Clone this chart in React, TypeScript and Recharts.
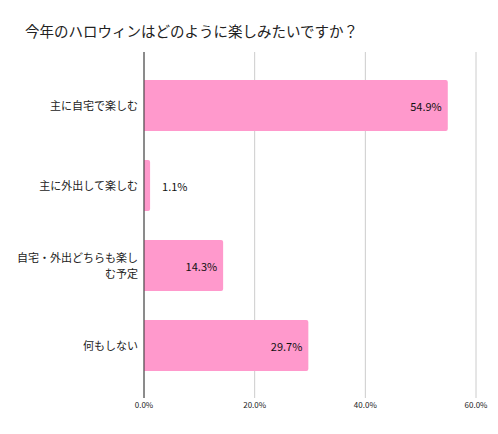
import { BarChart, Bar, XAxis, YAxis, CartesianGrid, ReferenceLine, LabelList } from 'recharts';

const categories = ['主に自宅で楽しむ', '主に外出して楽しむ', '自宅・外出どちらも楽しむ予定', '何もしない'];
const shares = [54.9, 1.1, 14.3, 29.7];
const xTicks = [0, 20, 40, 60];

const FONT = '"Noto Sans CJK JP", "Noto Sans", sans-serif';
const data = categories.map((name, i) => ({ name, value: shares[i] }));

// Japanese has no spaces to wrap on, so break by character count
function wrap(label: string, max = 11) {
  const lines: string[] = [];
  for (let i = 0; i < label.length; i += max) lines.push(label.slice(i, i + max));
  return lines;
}

function CategoryTick({ x, y, payload }: any) {
  const lines = wrap(String(payload.value));
  const lh = 16;
  const start = y - ((lines.length - 1) * lh) / 2;
  return (
    <text x={x} y={start} textAnchor="end" fontSize={11} fill="#222" fontFamily={FONT} dominantBaseline="central">
      {lines.map((l, i) => (
        <tspan key={i} x={x} y={start + i * lh}>
          {l}
        </tspan>
      ))}
    </text>
  );
}

function ValueLabel({ x, y, width, height, value }: any) {
  const inside = value > 5;
  const tx = inside ? x + width - 6 : x + width + 12;
  return (
    <text
      x={tx}
      y={y + height / 2}
      textAnchor={inside ? 'end' : 'start'}
      dominantBaseline="central"
      fontSize={11}
      fill="#111"
      fontFamily={FONT}
    >
      {`${Number(value).toFixed(1)}%`}
    </text>
  );
}

export default function App() {
  return (
    <div style={{ position: 'absolute', left: 0, top: 0, width: 498, height: 434, background: '#fff' }}>
      <div
        style={{
          position: 'absolute',
          left: 25,
          top: 21,
          fontSize: 14.5,
          color: '#222',
          fontFamily: FONT,
          whiteSpace: 'nowrap',
          lineHeight: '20px',
        }}
      >
        今年のハロウィンはどのように楽しみたいですか？
      </div>
      <BarChart
        width={498}
        height={434}
        data={data}
        layout="vertical"
        margin={{ top: 52, right: 22, bottom: 16, left: 0 }}
      >
        <CartesianGrid horizontal={false} stroke="#cccccc" />
        <XAxis
          type="number"
          domain={[0, 60]}
          ticks={xTicks}
          tickFormatter={(v) => `${Number(v).toFixed(1)}%`}
          axisLine={false}
          tickLine={false}
          tickSize={0}
          tickMargin={4}
          height={20}
          tick={{ fontSize: 8, fill: '#222', fontFamily: FONT }}
        />
        <YAxis
          type="category"
          dataKey="name"
          width={144}
          axisLine={false}
          tickLine={false}
          tickSize={0}
          tickMargin={6}
          padding={{ top: 13, bottom: 13 }}
          tick={<CategoryTick />}
          interval={0}
        />
        <ReferenceLine x={0} stroke="#333333" strokeWidth={1} />
        <Bar dataKey="value" fill="#ff99cc" barSize={51} radius={[0, 2, 2, 0]} isAnimationActive={false}>
          <LabelList dataKey="value" content={<ValueLabel />} />
        </Bar>
      </BarChart>
    </div>
  );
}
